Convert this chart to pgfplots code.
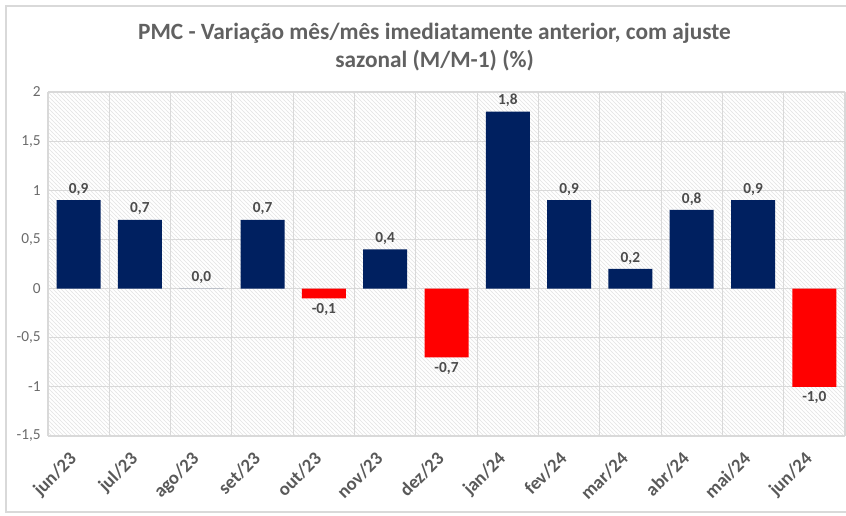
\documentclass[border=0pt]{standalone}
\usepackage{pgfplots}
\pgfplotsset{compat=1.18}
\usepackage{fontspec}
\setmainfont{Carlito}
\usetikzlibrary{patterns}
\definecolor{navy}{HTML}{002060}
\definecolor{tgray}{HTML}{595959}
\definecolor{lgray}{HTML}{D9D9D9}
\begin{document}
\begin{tikzpicture}
\useasboundingbox (0pt,0pt) rectangle (634.5pt,387pt);
\draw[lgray, line width=0.8pt] (634.5pt,382.5pt) -- (4.5pt,382.5pt) -- (4.5pt,3pt) -- (634.5pt,3pt);
\begin{axis}[
  at={(36pt,60pt)}, anchor=south west,
  scale only axis, width=597.75pt, height=258pt,
  xmin=-0.5, xmax=12.5, ymin=-1.5, ymax=2,
  xtick={0,...,12},
  xticklabels={jun/23,jul/23,ago/23,set/23,out/23,nov/23,dez/23,jan/24,fev/24,mar/24,abr/24,mai/24,jun/24},
  minor xtick={-0.5,0.5,...,12.5},
  ytick={-1.5,-1,...,2},
  xminorgrids, ymajorgrids,
  grid style={lgray, line width=0.8pt},
  minor grid style={lgray, line width=0.8pt},
  major tick length=0pt, minor tick length=0pt,
  axis line style={draw=none},
  axis background/.style={fill=white, postaction={pattern=north west lines, pattern color=black!11}},
  /pgf/number format/assume math mode=true,
  /pgf/number format/use comma,
  yticklabel style={font=\fontsize{11.5}{13}\selectfont, text=tgray!90, xshift=-2pt},
  xticklabel style={font=\bfseries\fontsize{14}{16}\selectfont, text=tgray, xshift=-8pt, yshift=-6pt, rotate=45, anchor=north east},
  title={PMC - Variação mês/mês imediatamente anterior, com ajuste\\sazonal (M/M-1) (\%)},
  title style={font=\bfseries\fontsize{17.5}{21}\selectfont, text=tgray!95, align=center, at={(0.485,1)}, anchor=south, yshift=6pt},
  ybar, bar width=33pt,
  nodes near coords,
  nodes near coords style={font=\bfseries\fontsize{11.5}{13}\selectfont, text=black!70, /pgf/number format/.cd, fixed, fixed zerofill, precision=1, use comma, assume math mode=true},
]
\addplot[fill=navy, draw=none, bar shift=0pt] coordinates {(0,0.9) (1,0.7) (2,0.0) (3,0.7) (5,0.4) (7,1.8) (8,0.9) (9,0.2) (10,0.8) (11,0.9)};
\addplot[fill=red, draw=none, bar shift=0pt] coordinates {(4,-0.1) (6,-0.7) (12,-1.0)};
\end{axis}
\end{tikzpicture}
\end{document}
